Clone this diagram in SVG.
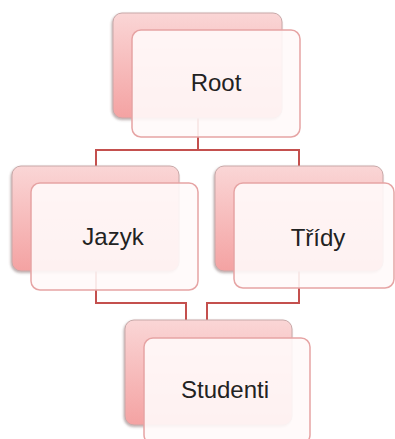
<svg xmlns="http://www.w3.org/2000/svg" width="395" height="439" viewBox="0 0 395 439">
<defs>
<linearGradient id="bg" x1="0" y1="0" x2="0" y2="1">
<stop offset="0" stop-color="#fad6d6"/>
<stop offset="1" stop-color="#f4a2a2"/>
</linearGradient>
<filter id="sh" x="-10%" y="-10%" width="120%" height="120%">
<feDropShadow dx="-1" dy="1.5" stdDeviation="1" flood-color="#6a5050" flood-opacity="0.45"/>
</filter>
</defs>
<style>
.back{fill:url(#bg);stroke:#c8a8a8;stroke-width:1;filter:url(#sh)}
.front{fill:#fffafa;fill-opacity:0.9;stroke:#e6a4a4;stroke-width:1.5}
.lbl{font-family:"Liberation Sans",Arial,sans-serif;font-size:24px;fill:#222;text-anchor:middle}
.con{fill:none;stroke:#c4504e;stroke-width:2}
</style>
<rect width="395" height="439" fill="#ffffff"/>
<g id="connectors">
<path class="con" d="M198,118 V150 M96,166 V150 H299 V166"/>
<path class="con" d="M96,271 V303 H186 V321"/>
<path class="con" d="M299,271 V303 H207 V321"/>
</g>
<g id="root">
<rect class="back" x="113" y="13" width="169" height="105" rx="9"/>
<rect class="front" x="132" y="30" width="168" height="107" rx="9"/>
<text class="lbl" x="216" y="91">Root</text>
</g>
<g id="jazyk">
<rect class="back" x="12" y="166" width="167" height="105" rx="9"/>
<rect class="front" x="31" y="183" width="167" height="107" rx="9"/>
<text class="lbl" x="113" y="245">Jazyk</text>
</g>
<g id="tridy">
<rect class="back" x="215" y="166" width="168" height="105" rx="9"/>
<rect class="front" x="234" y="183" width="160" height="105" rx="9"/>
<text class="lbl" x="318" y="246">Třídy</text>
</g>
<g id="studenti">
<rect class="back" x="125" y="320" width="167" height="105" rx="9"/>
<rect class="front" x="144" y="338" width="166" height="106" rx="9"/>
<text class="lbl" x="225" y="398">Studenti</text>
</g>
</svg>
